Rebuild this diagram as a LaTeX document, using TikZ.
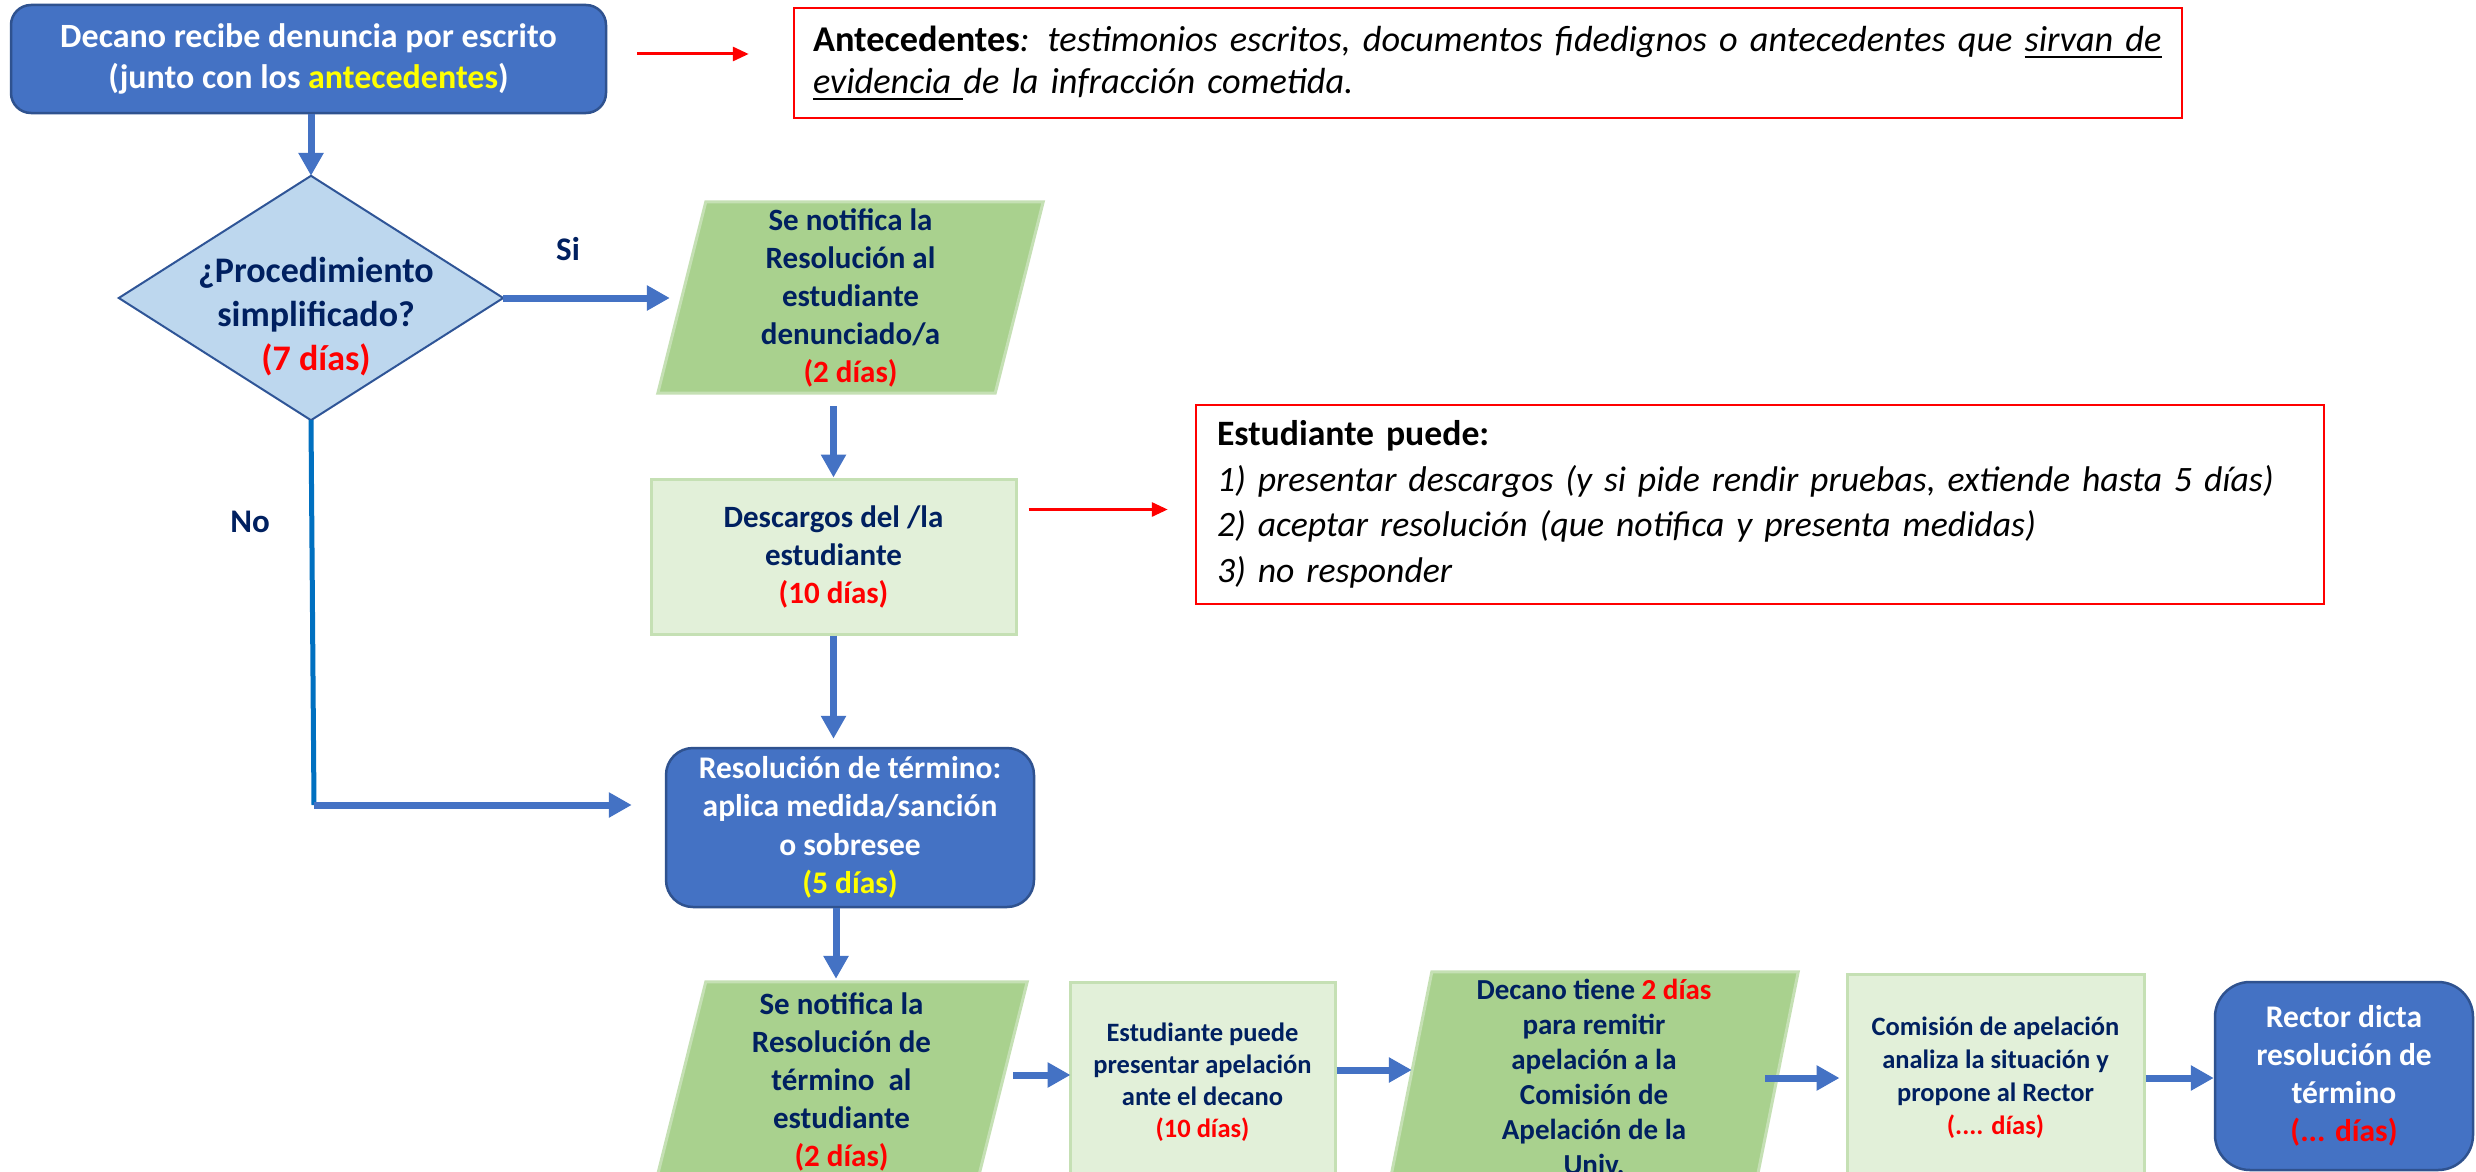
\documentclass[tikz,border=0pt]{standalone}
\usepackage{fontspec}
\setmainfont{Carlito}
\usetikzlibrary{arrows.meta,calc,backgrounds}
\definecolor{boxblue}{HTML}{4472C4}
\definecolor{boxedge}{HTML}{2F528F}
\definecolor{diafill}{HTML}{BDD7EE}
\definecolor{diaedge}{HTML}{2F5597}
\definecolor{paragreen}{HTML}{A9D18E}
\definecolor{lightgreen}{HTML}{E2F0D9}
\definecolor{greenedge}{HTML}{C5E0B4}
\definecolor{navy}{HTML}{002060}
\definecolor{arrowblue}{HTML}{4472C4}
\definecolor{noblue}{HTML}{0070C0}
\definecolor{red}{HTML}{FF0000}
\definecolor{yellow}{HTML}{FFFF00}
\newsavebox\ulbox
\newcommand\myul[1]{\sbox\ulbox{#1}\rlap{\rule[-7pt]{\wd\ulbox}{2.5pt}}\usebox\ulbox}
\tikzset{
  bluebox/.style={rectangle, fill=boxblue, draw=boxedge, line width=2.5pt, text=white, align=center, inner sep=0pt},
  redbox/.style={rectangle, draw=red, line width=2.5pt, fill=white, text=black, align=left, inner ysep=0pt},
  greenbox/.style={rectangle, fill=lightgreen, draw=greenedge, line width=3pt, text=navy, align=center, inner sep=0pt},
  paranode/.style={rectangle, draw=none, text=navy, align=center, inner sep=0pt},
  parashape/.style={fill=paragreen, draw=greenedge, line width=3pt},
  labeltext/.style={text=navy, inner sep=0pt},
  arr/.style={draw=arrowblue, line width=7pt, -{Triangle[length=23pt,width=24pt]}},
  redarr/.style={draw=red, line width=3pt, -{Triangle[length=16pt,width=14pt]}},
  noline/.style={draw=noblue, line width=5pt},
}
\begin{document}
\begin{tikzpicture}[x=1pt,y=-1pt]
\begin{scope}[on background layer]
\fill[white] (0,0) rectangle (2476,1172);
\end{scope}
\useasboundingbox (0,0) rectangle (2476,1172);

% top box
\node[bluebox, rounded corners=20pt, minimum width=595pt, minimum height=108pt,
  font=\fontsize{34}{41}\selectfont\bfseries] (top) at (308.5,59)
  {Decano recibe denuncia por escrito\\(junto con los \textcolor{yellow}{antecedentes})};

% antecedentes box
\node[redbox, text width=1350pt, inner xsep=19pt, minimum height=110pt,
  font=\fontsize{36.3}{42}\selectfont] (ant) at (1488,63)
  {\textbf{Antecedentes}\textit{: testimonios escritos, documentos fidedignos o antecedentes que \myul{sirvan de}}\\
   \textit{\myul{evidencia\ }de la infracción cometida.}};

% diamond
\node[minimum width=384pt, minimum height=244pt, inner sep=0pt] (dia) at (311,298) {};
\draw[draw=diaedge, fill=diafill, line width=2pt] (dia.north) -- (dia.east) -- (dia.south) -- (dia.west) -- cycle;
\node[labeltext, align=center, font=\fontsize{36}{44}\selectfont\bfseries] (diatext) at (316,317)
  {¿Procedimiento\\simplificado?\\\textcolor{red}{(7 días)}};

\node[labeltext, anchor=base, font=\fontsize{33}{40}\selectfont\bfseries] (si) at (568,260) {Si};
\node[labeltext, anchor=base, font=\fontsize{33}{40}\selectfont\bfseries] (no) at (250,532) {No};

% parallelogram 1
\node[paranode, minimum width=385pt, minimum height=191pt, font=\fontsize{31}{38}\selectfont\bfseries] (p1) at (850.5,297.5)
  {Se notifica la\\Resolución al\\estudiante\\denunciado/a\\\textcolor{red}{(2 días)}};

% descargos
\node[greenbox, minimum width=365pt, minimum height=155pt, font=\fontsize{31}{38}\selectfont\bfseries] (desc) at (833.5,556.5)
  {Descargos del /la\\estudiante\\\textcolor{red}{(10 días)}};

% estudiante puede
\node[redbox, text width=1086pt, inner xsep=21pt, minimum height=199pt,
  font=\fontsize{35.7}{45.5}\selectfont] (stu) at (1760,504.5)
  {\textbf{Estudiante puede:}\\
   \textit{1) presentar descargos (y si pide rendir pruebas, extiende hasta 5 días)}\\
   \textit{2) aceptar resolución (que notifica y presenta medidas)}\\
   \textit{3) no responder}};

% resolucion de termino
\node[bluebox, rounded corners=27pt, minimum width=368pt, minimum height=159pt,
  font=\fontsize{31.5}{38.5}\selectfont\bfseries] (res) at (850,827.5)
  {Resolución de término:\\aplica medida/sanción\\o sobresee\\\textcolor{yellow}{(5 días)}};

% bottom row
\node[paranode, minimum width=371pt, minimum height=200pt, font=\fontsize{31}{38}\selectfont\bfseries] (p2) at (841.5,1082)
  {Se notifica la\\Resolución de\\término~~al\\estudiante\\\textcolor{red}{(2 días)}};
\node[greenbox, minimum width=265pt, minimum height=200pt, font=\fontsize{26.5}{32}\selectfont\bfseries] (b2) at (1202.5,1082)
  {Estudiante puede\\presentar apelación\\ante el decano\\\textcolor{red}{(10 días)}};
\node[paranode, minimum width=408pt, minimum height=210pt, font=\fontsize{29}{35}\selectfont\bfseries] (p3) at (1594,1077)
  {Decano tiene \textcolor{red}{2 días}\\para remitir\\apelación a la\\Comisión de\\Apelación de la\\Univ.};
\node[greenbox, minimum width=297pt, minimum height=208pt, font=\fontsize{26.5}{33}\selectfont\bfseries] (b4) at (1995.5,1078)
  {Comisión de apelación\\analiza la situación y\\propone al Rector\\\textcolor{red}{(.... días)}};
\node[bluebox, rounded corners=35pt, minimum width=258pt, minimum height=188pt,
  font=\fontsize{31.5}{38}\selectfont\bfseries] (rec) at (2344,1076)
  {Rector dicta\\resolución de\\término\\\textcolor{red}{(... días)}};

\begin{scope}[on background layer]
  \path[parashape] ($(p1.north west)+(48,0)$) -- (p1.north east) -- ($(p1.south east)-(48,0)$) -- (p1.south west) -- cycle;
  \path[parashape] ($(p2.north west)+(50,0)$) -- (p2.north east) -- ($(p2.south east)-(50,0)$) -- (p2.south west) -- cycle;
  \path[parashape] ($(p3.north west)+(42,0)$) -- (p3.north east) -- ($(p3.south east)-(42,0)$) -- (p3.south west) -- cycle;
\end{scope}

% connectors
\coordinate (nocorner) at (314,805);
\draw[arr] (top.south -| dia.north) -- (dia.north);
\draw[redarr, shorten <=30pt, shorten >=44pt] ([yshift=5pt]top.east) -- ([yshift=5pt]top.east -| ant.west);
\draw[arr, shorten >=-12pt] (dia.east) -- (dia.east -| p1.west);
\draw[arr, shorten <=13pt] (p1.south -| desc.north) -- (desc.north);
\draw[redarr, shorten <=11pt, shorten >=27pt] ([yshift=-5pt]desc.east |- stu.west) -- ([yshift=-5pt]stu.west);
\draw[arr, shorten >=8pt] (desc.south) -- (desc.south |- res.north);
\draw[noline] (dia.south) -- (nocorner);
\draw[arr, shorten >=33pt] (nocorner) -- (nocorner -| res.west);
\draw[arr, shorten >=3pt] ([xshift=-14pt]res.south) -- ([xshift=-14pt]res.south |- p2.north);
\draw[arr, shorten <=-14pt, shorten >=-2pt] ([yshift=7pt]p2.east |- b2.west) -- ([yshift=7pt]b2.west);
\draw[arr, shorten >=-22pt] ([yshift=12pt]b2.east) -- ([yshift=12pt]b2.east -| p3.west);
\draw[arr, shorten <=-33pt, shorten >=6pt] (p3.east |- b4.west) -- (b4.west);
\draw[arr] (b4.east) -- (b4.east -| rec.west);
\end{tikzpicture}
\end{document}
